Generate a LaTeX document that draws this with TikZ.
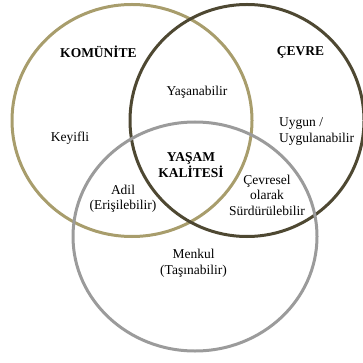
\documentclass[tikz,border=0pt]{standalone}
\usepackage{fontspec}
\setmainfont{Liberation Serif}
\begin{document}
\begin{tikzpicture}[x=1pt,y=-1pt,
  ring/.style={line width=3pt},
  lbl/.style={font=\fontsize{13.5}{15.5}\selectfont, align=center, inner sep=0pt},
  hdr/.style={lbl, font=\fontsize{13.5}{15.5}\selectfont\bfseries}]
  \useasboundingbox (0,0) rectangle (363,363);
  \definecolor{khaki}{HTML}{A89D6C}
  \definecolor{darkolive}{HTML}{4E4832}
  \definecolor{ringgray}{HTML}{9B9B9B}
  % the three overlapping sets
  \draw[ring, khaki]     (132,120.5) ellipse [x radius=120, y radius=116];
  \draw[ring, darkolive] (247,120.5) ellipse [x radius=117, y radius=116];
  \draw[ring, ringgray]  (195,236.5) ellipse [x radius=122, y radius=114.5];
  % set titles and region labels
  \node[hdr] (komunite) at (98.5,52) {KOMÜNİTE};
  \node[hdr] (cevre) at (300.5,52) {ÇEVRE};
  \node[lbl] (yasanabilir) at (197,92) {Yaşanabilir};
  \node[lbl] (keyifli) at (70,138) {Keyifli};
  \node[lbl, align=left, anchor=west] (uygun) at (279,131.5) {Uygun /\\Uygulanabilir};
  \node[hdr] (kalite) at (191,165) {YAŞAM\\KALİTESİ};
  \node[lbl] (adil) at (123,199) {Adil\\(Erişilebilir)};
  \node[lbl] (surdurulebilir) at (267,195) {Çevresel\\olarak\\Sürdürülebilir};
  \node[lbl] (menkul) at (193.5,263.5) {Menkul\\(Taşınabilir)};
\end{tikzpicture}
\end{document}
